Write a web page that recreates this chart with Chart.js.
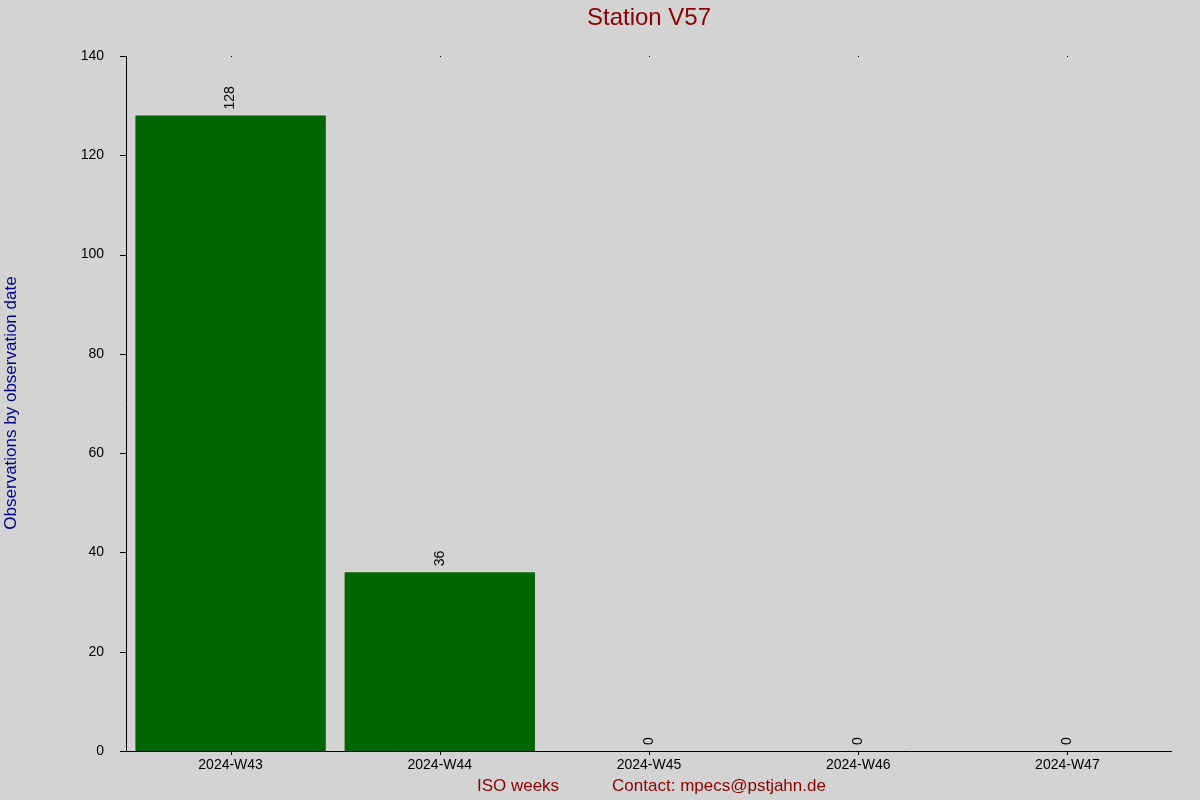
<!DOCTYPE html>
<html><head><meta charset="utf-8">
<script src="https://cdn.jsdelivr.net/npm/chart.js@4/dist/chart.umd.min.js"></script>
<style>html,body{margin:0;background:#d3d3d3}canvas{display:block}</style>
</head><body><div style="width:1200px;height:800px"><canvas id="c"></canvas></div>
<script>
const categories = ["2024-W43","2024-W44","2024-W45","2024-W46","2024-W47"];
const observations = [128, 36, 0, 0, 0];
const yTicks = [0,20,40,60,80,100,120,140];

const deco = {
  id:'deco',
  beforeDraw(c){const x=c.ctx;x.save();x.fillStyle='#d3d3d3';x.fillRect(0,0,c.width,c.height);x.restore();},
  afterDraw(c){
    const x=c.ctx, ca=c.chartArea, xs=c.scales.x, ys=c.scales.y;
    x.save();
    x.font='24px "Liberation Sans", Arial';x.fillStyle='#8b0000';x.textAlign='center';x.textBaseline='middle';
    x.fillText('Station V57',649,18);
    x.font='17px "Liberation Sans", Arial';
    x.fillText('ISO weeks',518,786);
    x.fillText('Contact: mpecs@pstjahn.de'.replace('@','ɒ').replace('ɒ','@'),719,786);
    x.fillStyle='#00008b';
    x.translate(11,403);x.rotate(-Math.PI/2);x.fillText('Observations by observation date',0,0);
    x.restore();
    x.save();
    x.strokeStyle='#000';x.lineWidth=1;
    x.beginPath();x.moveTo(126.5,ca.top);x.lineTo(126.5,ca.bottom+0.5);x.lineTo(1172,ca.bottom+0.5);x.stroke();
    categories.forEach((_,i)=>{const px=Math.round(xs.getPixelForValue(i))+0.5;
      x.beginPath();x.moveTo(px,ca.top);x.lineTo(px,ca.top+1);x.stroke();
      x.beginPath();x.moveTo(px,ca.bottom);x.lineTo(px,ca.bottom+4);x.stroke();});
    x.font='14px "Liberation Sans", Arial';x.fillStyle='#000';x.textAlign='left';x.textBaseline='middle';
    observations.forEach((v,i)=>{const px=xs.getPixelForValue(i), py=ys.getPixelForValue(v);
      x.save();x.translate(px,py-6);x.rotate(-Math.PI/2);x.fillText(String(v),0,0);x.restore();});
    x.restore();
  }
};

new Chart(document.getElementById('c'),{
  type:'bar',
  data:{labels:categories,datasets:[{data:observations,backgroundColor:'#006400',categoryPercentage:0.91,barPercentage:1}]},
  options:{responsive:true,maintainAspectRatio:false,animation:false,
    layout:{padding:{top:56,right:28,left:0,bottom:0}},
    plugins:{legend:{display:false},tooltip:{enabled:false}},
    scales:{
      x:{grid:{display:false,drawTicks:false},border:{display:false},
        ticks:{color:'#000',font:{family:'"Liberation Sans", Arial',size:14},padding:6,maxRotation:0},
        afterFit(s){s.height=49;}},
      y:{min:0,max:140,grid:{display:false},border:{display:false},
        afterBuildTicks(s){s.ticks=yTicks.map(v=>({value:v}));},
        ticks:{color:'#000',font:{family:'"Liberation Sans", Arial',size:14},padding:14},
        afterFit(s){s.width=126;}}
    }},
  plugins:[deco,{id:'yt',afterDraw(c){const x=c.ctx,ys=c.scales.y;x.save();x.strokeStyle='#000';
    yTicks.forEach(v=>{const py=Math.round(ys.getPixelForValue(v))+0.5;x.beginPath();x.moveTo(120,py);x.lineTo(126,py);x.stroke();});x.restore();}}]
});
</script></body></html>
